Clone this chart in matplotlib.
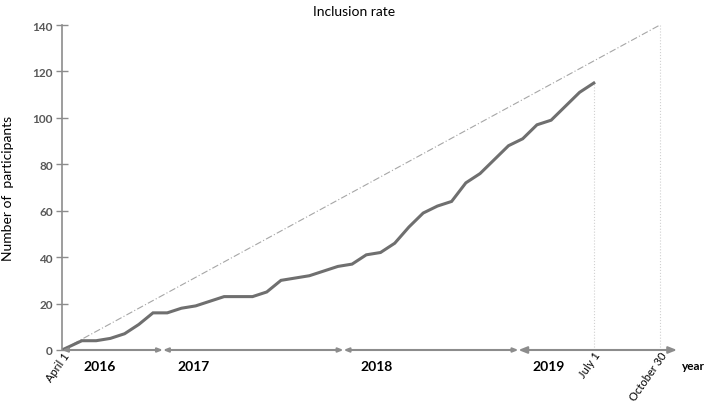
import matplotlib
matplotlib.use("Agg")
import matplotlib.pyplot as plt

plt.rcParams['font.family'] = ['Lato', 'DejaVu Sans']

# inclusion data (x = month steps since April 1 2016)
months = [0, 1.4, 2.4, 3.4, 4.4, 5.4, 6.4, 7.4, 8.4, 9.4, 10.4, 11.4, 12.4,
          13.4, 14.4, 15.4, 16.4, 17.4, 18.4, 19.4, 20.4, 21.4, 22.4, 23.4,
          24.4, 25.4, 26.4, 27.4, 28.4, 29.4, 30.4, 31.4, 32.4, 33.4, 34.4,
          35.4, 36.4, 37.4]
participants = [0, 4, 4, 5, 7, 11, 16, 16, 18, 19, 21, 23, 23, 23, 25, 30, 31,
                32, 34, 36, 37, 41, 42, 46, 53, 59, 62, 64, 72, 76, 82, 88, 91,
                97, 99, 105, 111, 115]

# planned inclusion: 0 at April 1, 140 at October 30
target_x = [0, 42.05]
target_y = [0, 140]

july1 = 37.4
oct30 = 42.05
year_bounds = [0, 7.1, 19.8, 32.1, 43.25]
year_labels = ['2016', '2017', '2018', '2019']
year_label_x = [1.5, 8.1, 21.0, 33.1]
yticks = [0, 20, 40, 60, 80, 100, 120, 140]

axis_col = '#8c8c8c'
fig = plt.figure(figsize=(7.09, 4.06), dpi=100)
ax = fig.add_axes([62/709, 55/406, 645/709, 325/406])
ax.set_xlim(0, 45.36)
ax.set_ylim(0, 140)

ax.plot(target_x, target_y, color='#a6a6a6', lw=0.8, ls=(0, (6, 2, 1, 2)))
ax.plot([july1, july1], [0, participants[-1]], color='#d0d0d0', lw=0.8, ls=':')
ax.plot([oct30, oct30], [0, 140], color='#d0d0d0', lw=0.8, ls=':')
ax.plot(months, participants, color='#6f6f6f', lw=2.2, solid_joinstyle='miter')

for s in ['top', 'right', 'bottom']:
    ax.spines[s].set_visible(False)
ax.spines['left'].set_color(axis_col)
ax.spines['left'].set_linewidth(1.2)
ax.set_xticks([])
ax.set_yticks(yticks)
ax.tick_params(axis='y', direction='inout', length=9, width=1, color=axis_col,
               labelsize=8.5, labelcolor='#595959', pad=2)
for lb in ax.get_yticklabels():
    lb.set_fontweight('bold')

# x axis drawn as year segments
for i in range(len(year_bounds) - 1):
    last = i == len(year_bounds) - 2
    head = 'head_length=0.5,head_width=0.2' if last else 'head_length=0.3,head_width=0.12'
    ax.annotate('', xy=(year_bounds[i + 1], 0), xytext=(year_bounds[i], 0),
                arrowprops=dict(arrowstyle='<|-|>,' + head,
                                color=axis_col, lw=1.5, shrinkA=0, shrinkB=0),
                annotation_clip=False)
for lab, xl in zip(year_labels, year_label_x):
    ax.text(xl, -7, lab, fontsize=10, fontweight='bold', va='center', ha='left',
            clip_on=False)
ax.text(43.6, -6.5, 'year', fontsize=8.5, fontweight='bold', va='center',
        ha='left', clip_on=False)

for xv, lab in [(0.4, 'April 1'), (july1 + 0.3, 'July 1'), (oct30 + 0.3, 'October 30')]:
    ax.text(xv, -1.2, lab, rotation=55, rotation_mode='anchor', ha='right',
            va='center', fontsize=8, clip_on=False)

ax.set_ylabel('Number of  participants', fontsize=10)
ax.yaxis.set_label_coords(-0.075, 0.5)
fig.text(0.5, 0.97, 'Inclusion rate', ha='center', va='center', fontsize=10)

fig.savefig('out.png', dpi=100)
